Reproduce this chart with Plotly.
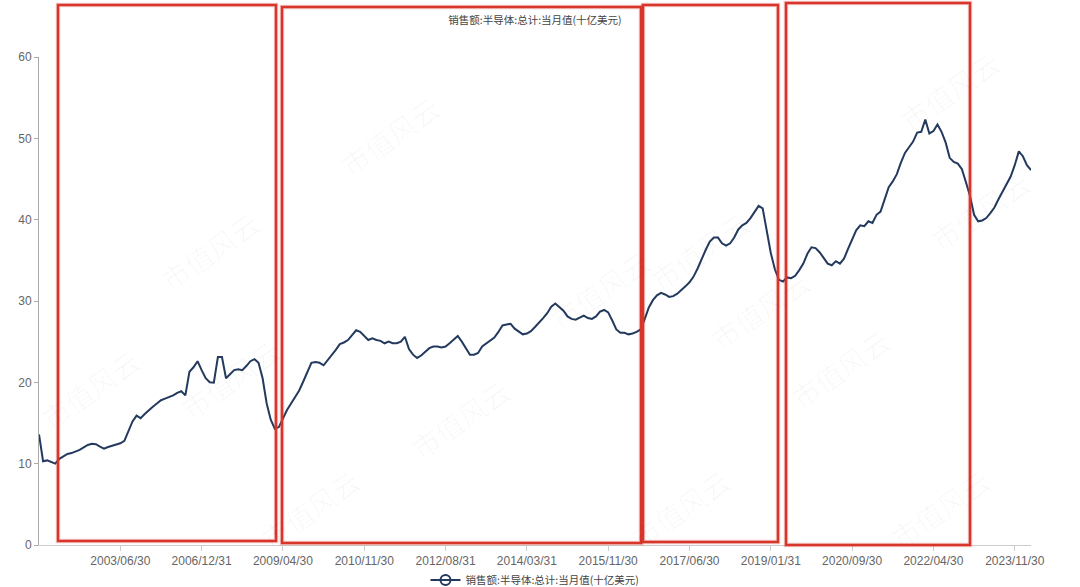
import plotly.graph_objects as go
import pandas as pd

# ---------------- data ----------------
series_name = "销售额:半导体:总计:当月值(十亿美元)"

# category anchors (index in category list -> date label)
anchor_idx = [0, 20, 40, 60, 80, 100, 120, 140, 160, 180, 200, 220, 240, 244]
anchor_dates = ["2000/10/31", "2003/06/30", "2006/12/31", "2009/04/30", "2010/11/30",
                "2012/08/31", "2014/03/31", "2015/11/30", "2017/06/30", "2019/01/31",
                "2020/09/30", "2022/04/30", "2023/11/30", "2024/03/31"]

tick_labels = ["2003/06/30", "2006/12/31", "2009/04/30", "2010/11/30", "2012/08/31",
               "2014/03/31", "2015/11/30", "2017/06/30", "2019/01/31", "2020/09/30",
               "2022/04/30", "2023/11/30"]

values = [
    13.6, 10.3, 10.4, 10.2, 10.0, 10.6, 10.9, 11.2, 11.3, 11.5,
    11.7, 12.0, 12.3, 12.45, 12.4, 12.1, 11.85, 12.05, 12.2, 12.4,
    12.5, 12.8, 14.0, 15.2, 15.9, 15.6, 16.1, 16.6, 17.0, 17.4,
    17.8, 18.0, 18.2, 18.4, 18.7, 18.9, 18.4, 21.3, 21.85, 22.6,
    21.5, 20.5, 20.0, 19.95, 23.1, 23.1, 20.5, 21.0, 21.5, 21.6,
    21.5, 22.0, 22.6, 22.85, 22.4, 20.5, 17.4, 15.4, 14.3, 14.5,
    15.6, 16.6, 17.4, 18.2, 19.0, 20.1, 21.3, 22.4, 22.5, 22.4,
    22.1, 22.7, 23.3, 24.0, 24.7, 24.9, 25.2, 25.8, 26.4, 26.2,
    25.7, 25.2, 25.4, 25.2, 25.1, 24.8, 25.0, 24.8, 24.8, 25.0,
    25.6, 24.1, 23.4, 23.0, 23.3, 23.7, 24.2, 24.4, 24.4, 24.3,
    24.4, 24.8, 25.3, 25.7, 25.0, 24.2, 23.4, 23.4, 23.6, 24.4,
    24.8, 25.1, 25.5, 26.2, 27.0, 27.1, 27.2, 26.6, 26.2, 25.9,
    26.0, 26.3, 26.8, 27.3, 27.9, 28.5, 29.3, 29.7, 29.3, 28.8,
    28.1, 27.8, 27.7, 27.9, 28.2, 27.9, 27.8, 28.1, 28.7, 28.9,
    28.6, 27.6, 26.5, 26.1, 26.1, 25.9, 26.0, 26.2, 26.5, 27.8,
    29.2, 30.1, 30.7, 31.0, 30.8, 30.5, 30.6, 30.9, 31.3, 31.8,
    32.3, 33.0, 34.0, 35.2, 36.3, 37.3, 37.8, 37.8, 37.1, 36.8,
    37.1, 37.8, 38.8, 39.3, 39.6, 40.2, 41.0, 41.7, 41.4, 38.5,
    35.9, 33.9, 32.6, 32.4, 32.9, 32.8, 33.1, 33.8, 34.6, 35.8,
    36.6, 36.5, 36.0, 35.3, 34.6, 34.4, 34.9, 34.6, 35.2, 36.4,
    37.6, 38.7, 39.3, 39.2, 39.8, 39.6, 40.6, 41.0, 42.5, 44.0,
    44.7, 45.6, 47.0, 48.2, 48.9, 49.6, 50.7, 50.8, 52.3, 50.6,
    50.9, 51.7, 50.8, 49.5, 47.6, 47.1, 46.9, 46.2, 44.6, 42.9,
    40.6, 39.8, 39.9, 40.2, 40.8, 41.5, 42.5, 43.5, 44.4, 45.3,
    46.7, 48.4, 47.8, 46.7, 46.1,
]

# build category labels between the anchor dates
categories = []
for (i0, d0), (i1, d1) in zip(zip(anchor_idx[:-1], anchor_dates[:-1]),
                              zip(anchor_idx[1:], anchor_dates[1:])):
    t0, t1 = pd.Timestamp(d0), pd.Timestamp(d1)
    n = i1 - i0
    for k in range(n):
        categories.append((t0 + (t1 - t0) * k / n).strftime("%Y/%m/%d"))
categories.append(anchor_dates[-1])

# ---------------- layout geometry ----------------
W, H = 1080, 587
L, R, T, B = 39, 1031, 57, 545  # plot area in pixels


def px_x(p):
    return (p - L) / (R - L)


def px_y(p):
    return (B - p) / (B - T)


line_color = "#233a5e"

fig = go.Figure()
fig.add_trace(go.Scatter(
    x=categories, y=values, mode="lines",
    line=dict(color=line_color, width=2),
    name=series_name, showlegend=False,
))
# legend proxy (line with hollow circle)
fig.add_trace(go.Scatter(
    x=[None], y=[None], mode="lines+markers",
    line=dict(color=line_color, width=2),
    marker=dict(symbol="circle-open", size=10, color=line_color, line=dict(width=2)),
    name=series_name, showlegend=True,
))

# red highlight rectangles (pixel boxes)
rects = [(58, 5, 276, 541), (282, 7, 641, 543), (643, 5, 778, 542), (786, 3, 970, 545)]
shapes = []
for x0, y0, x1, y1 in rects:
    shapes.append(dict(type="rect", xref="paper", yref="paper",
                       x0=px_x(x0), x1=px_x(x1), y0=px_y(y1), y1=px_y(y0),
                       line=dict(color="rgba(217,54,44,0.25)", width=4.5),
                       fillcolor="rgba(0,0,0,0)", layer="above"))
    shapes.append(dict(type="rect", xref="paper", yref="paper",
                       x0=px_x(x0), x1=px_x(x1), y0=px_y(y1), y1=px_y(y0),
                       line=dict(color="#d8352b", width=2.5),
                       fillcolor="rgba(0,0,0,0)", layer="above"))

# faint watermark text
annotations = []
wm_positions = [(150, 200), (390, 85), (600, 290), (820, 310), (1010, 40),
                (1040, 160), (460, 470), (900, 420), (30, 440), (250, 560),
                (680, 560), (170, 430), (700, 200), (1000, 560)]
for wx, wy in wm_positions:
    annotations.append(dict(text="市值风云", xref="paper", yref="paper",
                            x=px_x(wx), y=px_y(wy), showarrow=False, textangle=-35,
                            font=dict(size=28, color="rgba(0,0,0,0.028)",
                                      family="Noto Sans CJK SC")))

fig.update_layout(
    width=W, height=H, autosize=False,
    margin=dict(l=L, r=W - R, t=T, b=H - B, autoexpand=False),
    paper_bgcolor="white", plot_bgcolor="white",
    font=dict(family="Liberation Sans, Noto Sans CJK SC, sans-serif", color="#666666"),
    title=dict(text=series_name, x=535 / W, xanchor="center", y=1 - 20 / H, yanchor="middle",
               font=dict(size=10.5, color="#444444", family="Noto Sans CJK SC")),
    xaxis=dict(
        type="category", range=[0, len(categories) - 1],
        tickmode="array", tickvals=tick_labels, ticktext=tick_labels,
        showgrid=False, zeroline=False,
        showline=True, linecolor="#cccccc", linewidth=1,
        ticks="outside", ticklen=5, tickcolor="#cccccc",
        tickfont=dict(size=12, color="#666666", family="Liberation Sans"),
        tickangle=0,
    ),
    yaxis=dict(
        range=[0, 60], tickmode="array", tickvals=[0, 10, 20, 30, 40, 50, 60],
        showgrid=False, zeroline=False,
        showline=True, linecolor="#aaaaaa", linewidth=1,
        ticks="outside", ticklen=4, tickcolor="#aaaaaa",
        tickfont=dict(size=12, color="#666666", family="Liberation Sans"),
    ),
    legend=dict(orientation="h", x=0.5, xanchor="center", y=px_y(580), yanchor="middle",
                font=dict(size=10.5, color="#444444", family="Noto Sans CJK SC"),
                bgcolor="rgba(0,0,0,0)", itemwidth=30),
    shapes=shapes,
    annotations=annotations,
    hovermode="x",
)

fig.write_html("out.html",
               config={"displayModeBar": False},
               post_script="document.body.style.margin='0px';document.body.style.overflow='hidden';")
